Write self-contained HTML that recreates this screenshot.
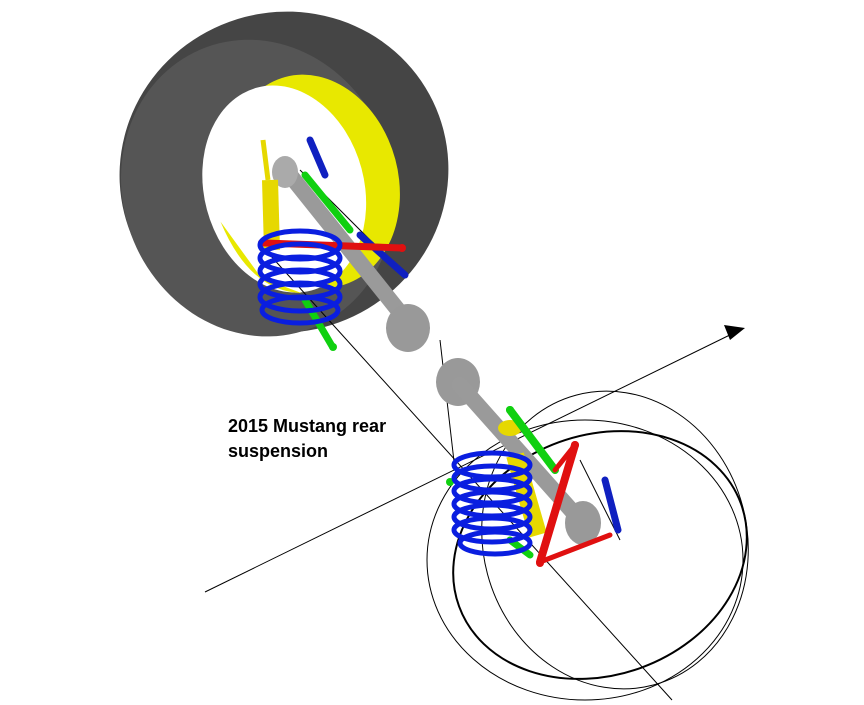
<!DOCTYPE html>
<html><head><meta charset="utf-8"><style>
html,body{margin:0;padding:0;background:#fff;width:864px;height:705px;overflow:hidden}
svg{display:block}
text{font-family:"Liberation Sans",sans-serif;font-weight:bold}
</style></head><body>
<svg width="864" height="705" viewBox="0 0 864 705" xmlns="http://www.w3.org/2000/svg">
<!-- tire -->
<g transform="rotate(-20 285 175)">
<ellipse cx="285" cy="172" rx="165" ry="160" fill="#454545"/>
<ellipse cx="255" cy="178" rx="135" ry="150" fill="#555"/>
</g>
<g transform="rotate(-15 300 190)">
<ellipse cx="315" cy="185" rx="85" ry="108" fill="#e8e800"/>
<ellipse cx="285" cy="185" rx="80" ry="105" fill="#fff"/>
<path d="M215,200 Q225,275 275,290 L240,265 Z" fill="#e8e800"/>
</g>
<!-- thin lines -->
<g stroke="#000" stroke-width="1" fill="none">
<line x1="205" y1="592" x2="740" y2="330"/>
<line x1="270" y1="255" x2="672" y2="700"/>
<line x1="300" y1="170" x2="405" y2="275"/>
<ellipse cx="585" cy="560" rx="158" ry="140"/>
<ellipse cx="615" cy="540" rx="132" ry="150" transform="rotate(-15 615 540)"/>
<ellipse cx="600" cy="555" rx="150" ry="120" stroke-width="2" transform="rotate(-20 600 555)"/>
<line x1="440" y1="340" x2="455" y2="470"/>
<line x1="580" y1="460" x2="620" y2="540"/>
</g>
<polygon points="745,328 724,325 730,340" fill="#000"/>
<!-- axle -->
<line x1="290" y1="175" x2="410" y2="325" stroke="#9a9a9a" stroke-width="16" stroke-linecap="round"/>
<ellipse cx="285" cy="172" rx="13" ry="16" fill="#aaa"/>
<ellipse cx="408" cy="328" rx="22" ry="24" fill="#999"/>
<ellipse cx="458" cy="382" rx="22" ry="24" fill="#999"/>
<line x1="460" y1="385" x2="580" y2="520" stroke="#9a9a9a" stroke-width="16" stroke-linecap="round"/>
<ellipse cx="583" cy="523" rx="18" ry="22" fill="#999"/>
<!-- yellow dampers -->
<line x1="270" y1="180" x2="272" y2="250" stroke="#e6d800" stroke-width="16"/>
<line x1="263" y1="140" x2="268" y2="180" stroke="#e6d800" stroke-width="5"/>
<line x1="515" y1="455" x2="538" y2="535" stroke="#e6d800" stroke-width="18"/>
<ellipse cx="510" cy="428" rx="12" ry="8" fill="#e6d800"/>
<!-- links -->
<g stroke-linecap="round">
<line x1="305" y1="175" x2="350" y2="230" stroke="#10d010" stroke-width="7"/>
<line x1="310" y1="140" x2="325" y2="175" stroke="#1020c0" stroke-width="7"/>
<line x1="360" y1="235" x2="405" y2="275" stroke="#1020c0" stroke-width="7"/>
<line x1="265" y1="243" x2="402" y2="248" stroke="#e01010" stroke-width="7"/>
<line x1="305" y1="300" x2="332" y2="346" stroke="#10d010" stroke-width="7"/>
<line x1="510" y1="410" x2="555" y2="470" stroke="#10d010" stroke-width="8"/>
<line x1="575" y1="445" x2="540" y2="562" stroke="#e01010" stroke-width="8"/>
<line x1="540" y1="562" x2="610" y2="535" stroke="#e01010" stroke-width="5"/>
<line x1="555" y1="470" x2="575" y2="445" stroke="#e01010" stroke-width="5"/>
<line x1="605" y1="480" x2="618" y2="530" stroke="#1020c0" stroke-width="7"/>
<line x1="510" y1="540" x2="530" y2="555" stroke="#10d010" stroke-width="7"/>
</g>
<g fill="#e01010"><circle cx="402" cy="248" r="4"/><circle cx="575" cy="445" r="4"/><circle cx="540" cy="563" r="4"/><circle cx="262" cy="243" r="4"/></g>
<g fill="#10d010"><circle cx="333" cy="347" r="4"/><circle cx="510" cy="410" r="4"/><circle cx="450" cy="482" r="4"/></g>
<!-- springs -->
<g fill="none" stroke="#0a1ee0" stroke-width="5">
<ellipse cx="300" cy="245" rx="40" ry="14"/>
<ellipse cx="300" cy="258" rx="40" ry="14"/>
<ellipse cx="300" cy="271" rx="40" ry="14"/>
<ellipse cx="300" cy="284" rx="40" ry="14"/>
<ellipse cx="300" cy="297" rx="40" ry="14"/>
<ellipse cx="300" cy="310" rx="38" ry="13"/>
<ellipse cx="492" cy="465" rx="38" ry="12"/>
<ellipse cx="492" cy="478" rx="38" ry="12"/>
<ellipse cx="492" cy="491" rx="38" ry="12"/>
<ellipse cx="492" cy="504" rx="38" ry="12"/>
<ellipse cx="492" cy="517" rx="38" ry="12"/>
<ellipse cx="492" cy="530" rx="38" ry="12"/>
<ellipse cx="495" cy="543" rx="35" ry="11"/>
</g>
<text x="228" y="432" font-size="18">2015 Mustang rear</text>
<text x="228" y="457" font-size="18">suspension</text>
</svg>
</body></html>
